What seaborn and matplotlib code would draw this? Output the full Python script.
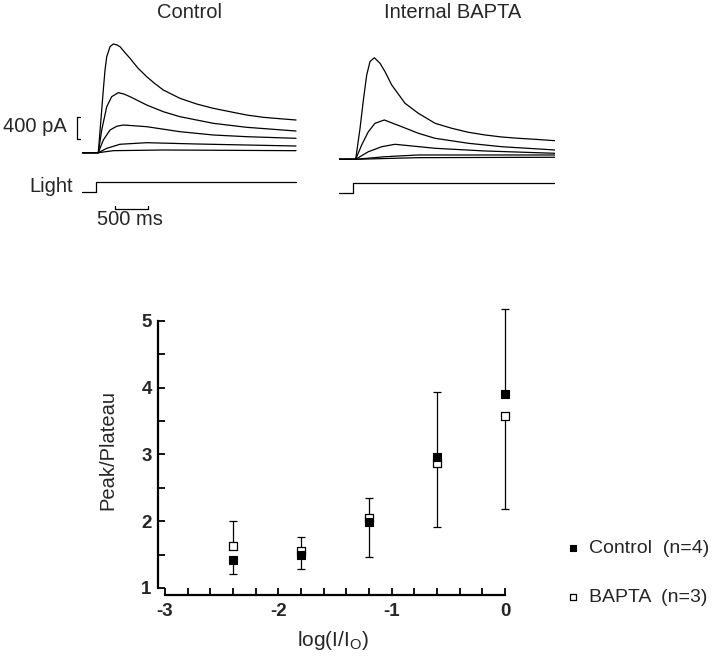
import matplotlib
matplotlib.use("Agg")
import matplotlib.pyplot as plt
import numpy as np
import pandas as pd
import seaborn as sns
from matplotlib.ticker import MultipleLocator

# ---------------- data ----------------
# Top traces: time (ms, light onset at 0) and current (pA)
ctrl_t1 = [-205, 42, 80, 118, 144, 170, 220, 270, 320, 371, 440, 523, 640, 776, 900, 1027, 1280, 1533, 1785, 2038, 2291, 2542, 2795, 3040]
ctrl_i1 = [0, 0, 560, 1116, 1472, 1709, 1887, 1935, 1920, 1887, 1790, 1680, 1510, 1353, 1230, 1116, 968, 867, 790, 730, 671, 630, 605, 582]
ctrl_t2 = [-205, 42, 94, 170, 245, 345, 430, 523, 776, 1027, 1280, 1785, 2291, 3040]
ctrl_i2 = [0, 0, 404, 819, 997, 1068, 1045, 997, 849, 730, 641, 523, 452, 386]
ctrl_t3 = [-205, 42, 118, 220, 320, 421, 776, 1280, 1785, 2291, 3040]
ctrl_i3 = [0, 0, 226, 404, 470, 493, 463, 374, 315, 285, 256]
ctrl_t4 = [-205, 42, 170, 371, 776, 1533, 3040]
ctrl_i4 = [0, 0, 78, 150, 178, 155, 119]
ctrl_t5 = [-205, 42, 270, 1027, 3040]
ctrl_i5 = [0, 0, 36, 48, 36]

bapta_t1 = [-205, 48, 114, 164, 215, 265, 330, 417, 493, 594, 796, 998, 1251, 1504, 1756, 2009, 2262, 2514, 2767, 3070]
bapta_i1 = [0, 0, 552, 1050, 1500, 1740, 1808, 1709, 1559, 1323, 997, 819, 641, 552, 481, 433, 397, 374, 356, 331]
bapta_t2 = [-205, 48, 139, 240, 341, 482, 746, 998, 1251, 1756, 2262, 3070]
bapta_i2 = [0, 0, 255, 491, 641, 700, 580, 463, 374, 285, 224, 166]
bapta_t3 = [-205, 48, 240, 443, 644, 1251, 2009, 3070]
bapta_i3 = [0, 0, 135, 224, 267, 196, 148, 107]
bapta_t4 = [-205, 48, 493, 998, 3070]
bapta_i4 = [0, 0, 46, 77, 77]
bapta_t5 = [-205, 48, 998, 3070]
bapta_i5 = [0, 0, 29, 36]

light_ctrl_t = [-205, 0, 0, 3040]
light_bapta_t = [-205, 0, 0, 3070]
light_level = [0, 0, 1, 1]

# Bottom panel
log_intensity = [-2.4, -1.8, -1.2, -0.6, 0.0]
control_ratio = [1.42, 1.50, 1.99, 2.96, 3.91]
control_err_low = [0.21, 0.22, 0.52, 0.0, 0.0]
control_err_high = [0.0, 0.0, 0.0, 0.97, 1.27]
bapta_ratio = [1.63, 1.55, 2.05, 2.87, 3.58]
bapta_err_low = [0.0, 0.0, 0.0, 0.96, 1.40]
bapta_err_high = [0.37, 0.21, 0.30, 0.0, 0.0]

control_label = "Control  (n=4)"
bapta_label = "BAPTA  (n=3)"

# ---------------- style ----------------
sns.set_style("white")
plt.rcParams["font.family"] = ["Liberation Sans", "DejaVu Sans"]
plt.rcParams["mathtext.fontset"] = "custom"
plt.rcParams["mathtext.rm"] = "Liberation Sans"
plt.rcParams["mathtext.it"] = "Liberation Sans:italic"
plt.rcParams["axes.unicode_minus"] = False

W, H = 720, 661
fig = plt.figure(figsize=(W / 100, H / 100), dpi=100)
fig.patch.set_facecolor("white")


def px_axes(left, top, right, bottom):
    return fig.add_axes([left / W, 1 - bottom / H, (right - left) / W, (bottom - top) / H])


def traces_df(ts, cs):
    rows = []
    for k, (t, c) in enumerate(zip(ts, cs)):
        rows.append(pd.DataFrame({"time": t, "current": c, "trace": k}))
    return pd.concat(rows, ignore_index=True)


ctrl_df = traces_df([ctrl_t1, ctrl_t2, ctrl_t3, ctrl_t4, ctrl_t5],
                    [ctrl_i1, ctrl_i2, ctrl_i3, ctrl_i4, ctrl_i5])
bapta_df = traces_df([bapta_t1, bapta_t2, bapta_t3, bapta_t4, bapta_t5],
                     [bapta_i1, bapta_i2, bapta_i3, bapta_i4, bapta_i5])

lw_tr = 0.9
ax_c = px_axes(82, 30, 298, 160)
ax_b = px_axes(339, 36.6, 555, 166.6)
for ax, df in ((ax_c, ctrl_df), (ax_b, bapta_df)):
    sns.lineplot(data=df, x="time", y="current", units="trace", estimator=None,
                 color="black", lw=lw_tr, ax=ax, legend=False)
    ax.set_xlim(-205, 3070)
    ax.set_ylim(-130, 2184)
    ax.axis("off")

axl_c = px_axes(82, 176, 298, 198)
axl_b = px_axes(339, 176.5, 555, 198.5)
for ax, lt in ((axl_c, light_ctrl_t), (axl_b, light_bapta_t)):
    sns.lineplot(x=lt, y=light_level, sort=False, estimator=None, color="black", lw=lw_tr, ax=ax)
    ax.set_xlim(-205, 3070)
    ax.set_ylim(-0.6, 1.6)
    ax.axis("off")

# scale bars
ax_c.plot([-235, -288, -288, -235], [240, 240, 640, 640], color="black", lw=0.9, clip_on=False)
axl_c.plot([296, 296, 796, 796], [-1.45, -1.73, -1.73, -1.45], color="black", lw=0.9, clip_on=False)

fs_top = 14.5
fig.text(190 / W, 1 - 12 / H, "Control", ha="center", va="center", fontsize=fs_top)
fig.text(453 / W, 1 - 13 / H, "Internal BAPTA", ha="center", va="center", fontsize=fs_top)
fig.text(67 / W, 1 - 127 / H, "400 pA", ha="right", va="center", fontsize=fs_top)
fig.text(73 / W, 1 - 186 / H, "Light", ha="right", va="center", fontsize=fs_top)
fig.text(130 / W, 1 - 220 / H, "500 ms", ha="center", va="center", fontsize=fs_top)

# ---------------- bottom plot ----------------
axm = px_axes(158, 300, 520, 595)
axm.errorbar(log_intensity, control_ratio, yerr=[control_err_low, control_err_high],
             fmt="none", ecolor="black", elinewidth=0.9, capsize=3.2, capthick=0.9, zorder=2)
axm.errorbar(log_intensity, bapta_ratio, yerr=[bapta_err_low, bapta_err_high],
             fmt="none", ecolor="black", elinewidth=0.9, capsize=3.2, capthick=0.9, zorder=2)
sns.scatterplot(x=log_intensity, y=control_ratio, marker="s", color="black", edgecolor="black",
                s=26, linewidth=0.8, ax=axm, label=control_label, zorder=4)
sns.scatterplot(x=log_intensity, y=bapta_ratio, marker="s", color="white", edgecolor="black",
                s=26, linewidth=0.9, ax=axm, label=bapta_label, zorder=3)

axm.set_xlim(-3.0618, 0.132)
axm.set_ylim(0.895, 5.31)
for s in ("top", "right"):
    axm.spines[s].set_visible(False)
for s in ("left", "bottom"):
    axm.spines[s].set_linewidth(1.6)
    axm.spines[s].set_color("black")
axm.spines["left"].set_bounds(1, 5)
axm.spines["bottom"].set_bounds(-3, 0)
axm.xaxis.set_major_locator(MultipleLocator(1))
axm.xaxis.set_minor_locator(MultipleLocator(0.2))
axm.yaxis.set_major_locator(MultipleLocator(1))
axm.yaxis.set_minor_locator(MultipleLocator(0.5))
axm.tick_params(which="both", direction="in", length=5, width=1.3, color="black",
                bottom=True, left=True, top=False, right=False)
axm.tick_params(axis="y", which="major", pad=4.5, labelsize=13.5)
axm.tick_params(axis="x", which="major", pad=6, labelsize=13.5)
for lab in axm.get_xticklabels() + axm.get_yticklabels():
    lab.set_fontweight("bold")

axm.set_ylabel("Peak/Plateau", fontsize=14.5)
axm.yaxis.set_label_coords(-0.113, 0.49)
axm.set_xlabel("log(I/I$_{\\mathrm{O}}$)", fontsize=15)
axm.xaxis.set_label_coords(0.483, -0.115)

axm.legend(loc="center left", bbox_to_anchor=(567 / W, 1 - 573 / H), bbox_transform=fig.transFigure,
           frameon=False, fontsize=14, handlelength=0.6, handletextpad=0.55, labelspacing=1.6,
           borderpad=0, borderaxespad=0, markerscale=0.85)

fig.savefig("out.png", dpi=100)
